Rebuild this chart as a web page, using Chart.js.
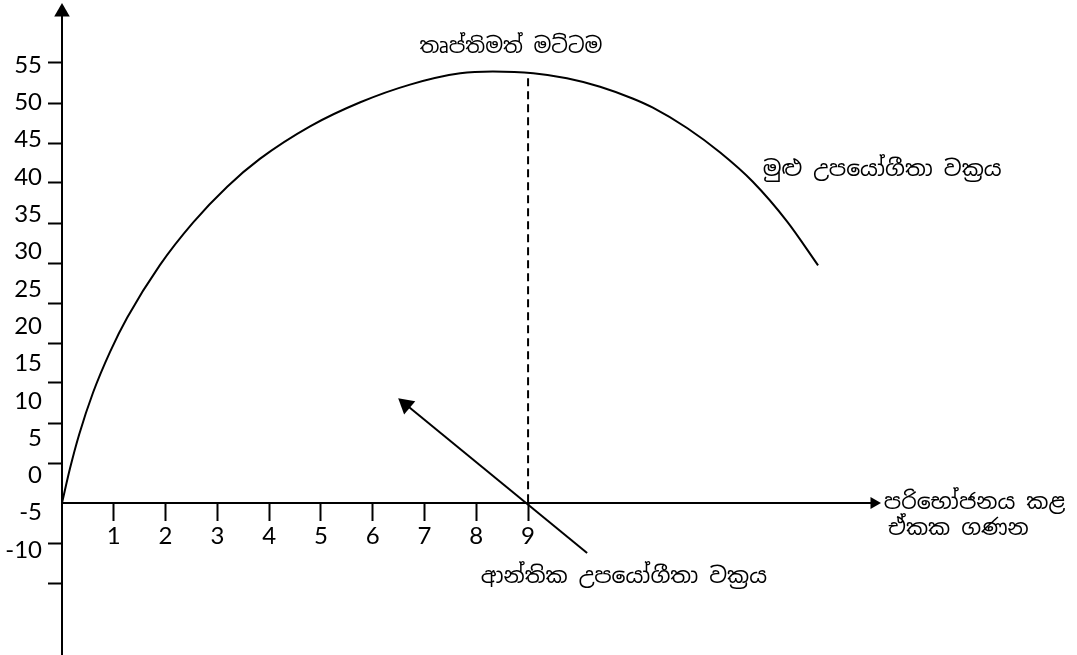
<!DOCTYPE html>
<html>
<head>
<meta charset="utf-8">
<script src="https://cdn.jsdelivr.net/npm/chart.js"></script>
<style>
  html, body { margin: 0; padding: 0; background: #fff; }
  canvas { display: block; }
</style>
</head>
<body>
<canvas id="chart" width="1077" height="655"></canvas>
<script>
// මුළු උපයෝගීතා වක්‍රය - units consumed vs total utility
const units = [0, 0.155, 0.33, 0.60, 0.93, 1.26, 1.89, 2.53, 3.19, 3.82, 4.79, 5.76, 6.72, 7.69, 8.32, 9.10, 9.75, 10.39, 11.03, 11.41, 12.07, 12.71, 13.34, 14.0, 14.6];
const totalUtility = [0, 4.34, 8.54, 13.81, 18.93, 23.19, 29.74, 35.05, 39.54, 43.01, 47.08, 50.09, 52.30, 53.71, 53.93, 53.72, 53.09, 52.03, 50.53, 49.41, 46.87, 43.80, 40.15, 35.2, 29.7];

// satiation level (dashed line at 9 units)
const satiationX = [9, 9];
const satiationY = [53.1, 0];

// pointer to the marginal utility label
const pointerX = [10.14, 6.64];
const pointerY = [-6.25, 12.3];

// axis ticks
const xTickValues = [1, 2, 3, 4, 5, 6, 7, 8, 9];
const yTickMarks = [-10, -5, 0, 5, 10, 15, 20, 25, 30, 35, 40, 45, 50, 55];
const yLabelValues = [55, 50, 45, 40, 35, 30, 25, 20, 15, 10, 5, 0, -5, -10];

// axis ranges
const X_MIN = 0, X_MAX = 15.68;
const Y_MIN = -19, Y_MAX = 61.375;
const YL_MIN = -24.072, YL_MAX = 62.103;

// texts
const notes = [
    {text: "තෘප්තිමත් මට්ටම", x: 8.67, y: 57, align: "center", size: 21},
    {text: "මුළු උපයෝගීතා වක්‍රය", x: 15.84, y: 41.6, align: "center", size: 22},
    {text: "පරිභෝජනය කළ", x: 15.87, y: 0, align: "left", size: 22},
    {text: "ඒකක ගණන", x: 15.95, y: -3.3, align: "left", size: 22},
    {text: "ආන්තික උපයෝගීතා වක්‍රය", x: 10.85, y: -9.25, align: "center", size: 22}
];

const numFont = {family: "Lato", size: 24, lineHeight: 1};
const sinhalaFamily = '"Noto Sans Sinhala", "Iskoola Pota", "Noto Sans", sans-serif';

function zip(xs, ys) {
    return xs.map((x, i) => ({x: x, y: ys[i]}));
}

const notesPlugin = {
    id: "notes",
    afterDraw(chart) {
        const ctx = chart.ctx;
        const sx = chart.scales.x;
        const sy = chart.scales.y;
        ctx.save();
        ctx.fillStyle = "#000";
        ctx.textBaseline = "middle";
        for (const n of notes) {
            ctx.font = n.size + "px " + sinhalaFamily;
            ctx.textAlign = n.align;
            ctx.fillText(n.text, sx.getPixelForValue(n.x), sy.getPixelForValue(n.y));
        }
        ctx.restore();
    }
};

new Chart(document.getElementById("chart"), {
    type: "scatter",
    data: {
        datasets: [
            {
                label: "total",
                data: zip(units, totalUtility),
                showLine: true,
                borderColor: "#000",
                borderWidth: 2,
                pointRadius: 0,
                cubicInterpolationMode: "monotone"
            },
            {
                label: "satiation",
                data: zip(satiationX, satiationY),
                showLine: true,
                borderColor: "#000",
                borderWidth: 2,
                borderDash: [8, 5],
                pointRadius: 0
            },
            {
                label: "pointer",
                data: zip(pointerX, pointerY),
                showLine: true,
                borderColor: "#000",
                borderWidth: 2,
                pointRadius: [0, 10],
                pointStyle: "triangle",
                rotation: -50,
                backgroundColor: "#000",
                pointBorderWidth: 0,
                clip: false
            },
            {
                label: "arrows",
                data: [{x: X_MIN, y: Y_MAX}, {x: X_MAX, y: 0}],
                showLine: false,
                pointRadius: [9, 7],
                pointStyle: "triangle",
                rotation: [0, 90],
                backgroundColor: "#000",
                borderWidth: 0,
                clip: false
            }
        ]
    },
    options: {
        responsive: false,
        animation: false,
        devicePixelRatio: 1,
        layout: {autoPadding: false, padding: {left: 0, top: 12, right: 203, bottom: 0}},
        plugins: {legend: {display: false}, tooltip: {enabled: false}},
        scales: {
            x: {
                type: "linear",
                min: X_MIN,
                max: X_MAX,
                position: {y: 0},
                border: {color: "#000", width: 2},
                grid: {drawOnChartArea: false, drawTicks: true, tickLength: 17, tickWidth: 2, tickColor: "#000"},
                ticks: {color: "#000", font: numFont, padding: 4},
                afterBuildTicks: s => { s.ticks = xTickValues.map(v => ({value: v})); }
            },
            y: {
                type: "linear",
                min: Y_MIN,
                max: Y_MAX,
                position: "left",
                weight: 0,
                border: {color: "#000", width: 2},
                grid: {
                    drawOnChartArea: false, drawTicks: true, tickLength: 14, tickWidth: 2,
                    tickColor: c => (c.tick && c.tick.value === 0) ? "rgba(0,0,0,0)" : "#000"
                },
                ticks: {display: false},
                afterBuildTicks: s => { s.ticks = yTickMarks.map(v => ({value: v})); },
                afterFit: s => { s.width = 14; s.paddingTop = 0; s.paddingBottom = 0; }
            },
            yL: {
                type: "linear",
                min: YL_MIN,
                max: YL_MAX,
                position: "left",
                weight: 1,
                border: {display: false},
                grid: {display: false, drawTicks: false},
                ticks: {color: "#000", font: numFont, padding: 6, callback: v => String(v)},
                afterBuildTicks: s => { s.ticks = yLabelValues.map(v => ({value: v})); },
                afterFit: s => { s.width = 48; s.paddingTop = 0; s.paddingBottom = 0; }
            }
        }
    },
    plugins: [notesPlugin]
});
</script>
</body>
</html>
